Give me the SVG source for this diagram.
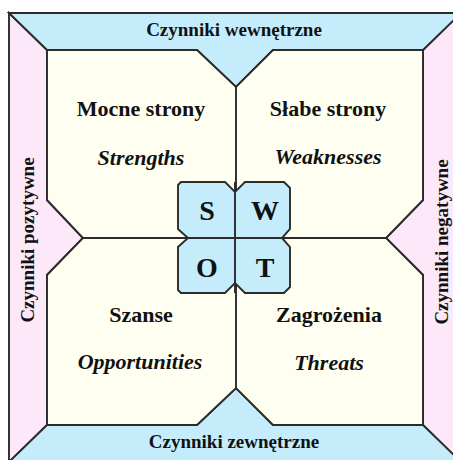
<svg xmlns="http://www.w3.org/2000/svg" width="453" height="460" viewBox="0 0 453 460">
<style>
  .ln{stroke:#2b2b2b;stroke-width:1.9;stroke-linejoin:miter}
  .blue{fill:#c4ecfb}
  .pink{fill:#fce8f8}
  .cream{fill:#fefff0}
  .lbl{font-family:"Liberation Serif","Times New Roman",serif;font-weight:bold;fill:#111;text-anchor:middle}
  .band{font-size:19px}
  .q{font-size:22px}
  .it{font-style:italic}
  .big{font-size:28px}
</style>
<rect x="0" y="0" width="453" height="460" fill="#ffffff"/>
<g id="band-left">
  <polygon class="pink ln" points="9,13 47,50 47,200 83,238 47,275 47,425 9,462"/>
  <text class="lbl band" transform="translate(34,240) rotate(-90)">Czynniki pozytywne</text>
</g>
<g id="band-right">
  <polygon class="pink ln" points="461,13 423,50 423,200 386,238 423,275 423,425 461,462"/>
  <text class="lbl band" transform="translate(448,242) rotate(-90)">Czynniki negatywne</text>
</g>
<g id="band-top">
  <polygon class="blue ln" points="9,13 461,13 423,50 273,50 236,87 197,50 47,50"/>
  <text class="lbl band" x="234" y="36">Czynniki wewnętrzne</text>
</g>
<g id="band-bottom">
  <polygon class="blue ln" points="9,462 47,425 197,425 236,388 273,425 423,425 461,462"/>
  <text class="lbl band" x="234" y="448">Czynniki zewnętrzne</text>
</g>
<g id="quadrants">
  <polygon class="cream ln" points="47,50 197,50 236,87 273,50 423,50 423,200 386,238 423,275 423,425 273,425 236,388 197,425 47,425 47,275 83,238 47,200"/>
</g>
<g id="connectors">
  <line class="ln" x1="236" y1="87" x2="236" y2="388"/>
  <line class="ln" x1="83" y1="238" x2="386" y2="238"/>
</g>
<g id="swot-center">
  <path class="blue ln" d="M181,182 L225,182 L235,192 L245,182 L284,182 L290,188 L290,229 L282,238 L290,247 L290,287 L284,293 L245,293 L235,283 L225,293 L181,293 L178,290 L178,247 L188,238 L178,229 L178,185 Z"/>
  <line class="ln" x1="235" y1="182" x2="235" y2="293"/>
  <line class="ln" x1="178" y1="238" x2="290" y2="238"/>
</g>
<g id="node-s">
  <text class="lbl q" x="141" y="116">Mocne strony</text>
  <text class="lbl q it" x="141" y="165">Strengths</text>
  <text class="lbl big" x="207" y="220">S</text>
</g>
<g id="node-w">
  <text class="lbl q" x="328" y="116">Słabe strony</text>
  <text class="lbl q it" x="328" y="164">Weaknesses</text>
  <text class="lbl big" x="265" y="220">W</text>
</g>
<g id="node-o">
  <text class="lbl q" x="141" y="322">Szanse</text>
  <text class="lbl q it" x="140" y="369">Opportunities</text>
  <text class="lbl big" x="207" y="277">O</text>
</g>
<g id="node-t">
  <text class="lbl q" x="329" y="322">Zagrożenia</text>
  <text class="lbl q it" x="329" y="370">Threats</text>
  <text class="lbl big" x="265" y="277">T</text>
</g>
</svg>
